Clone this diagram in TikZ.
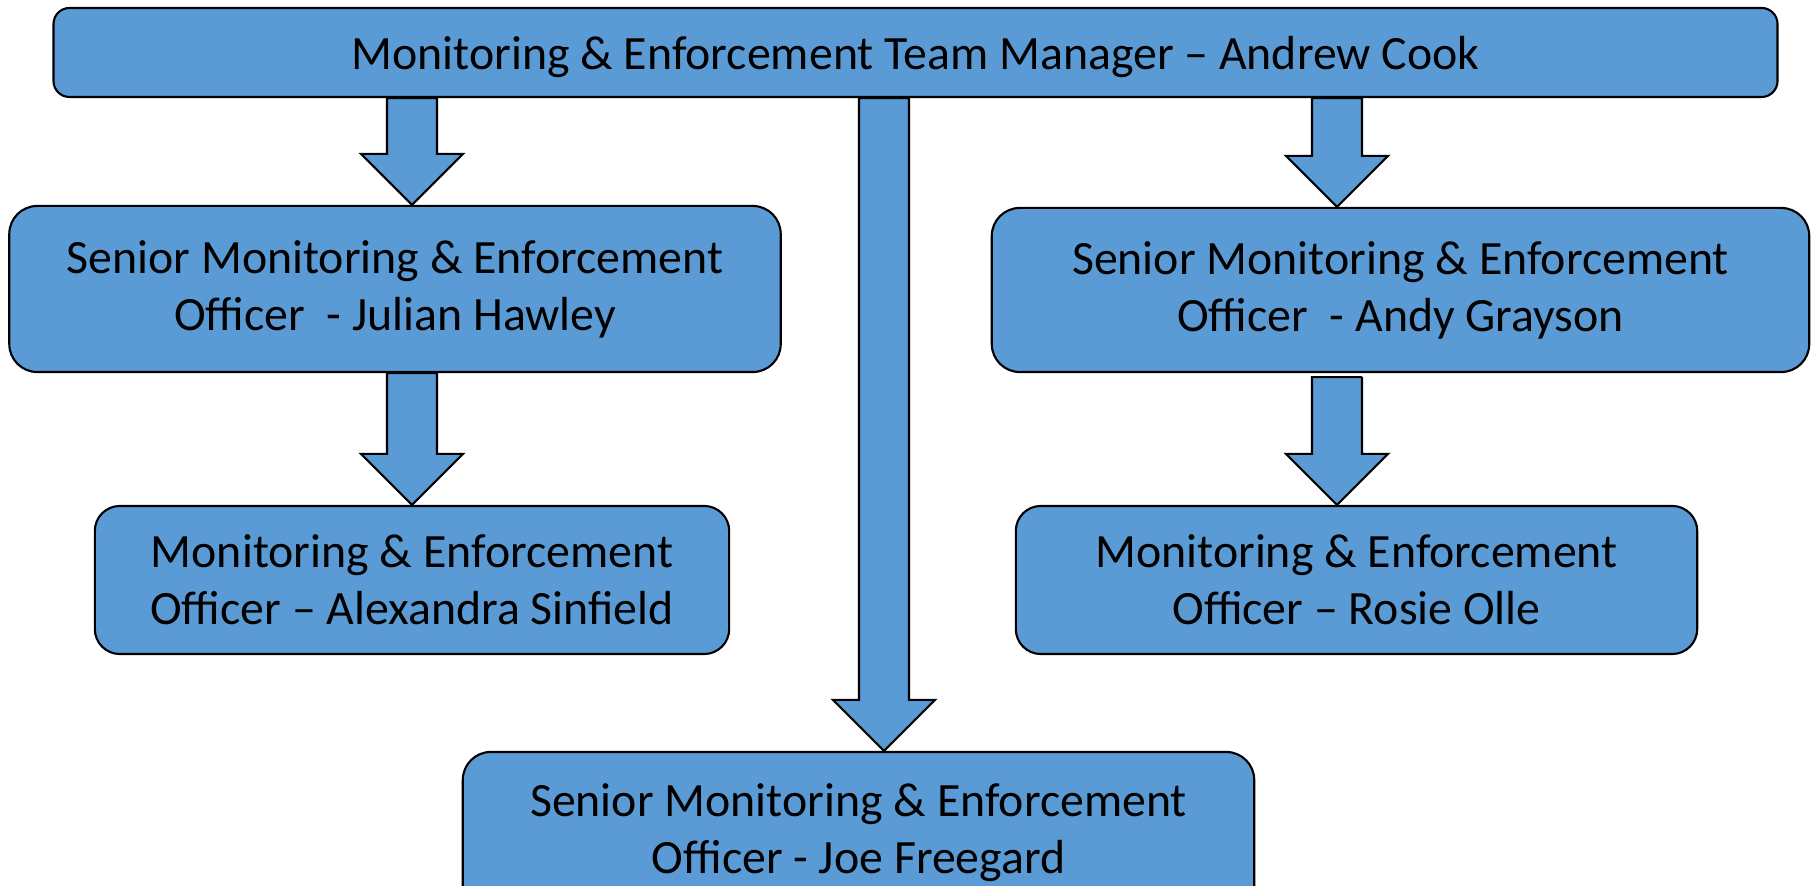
\documentclass[tikz,border=0pt]{standalone}
\usepackage{fontspec}
\setmainfont{Carlito}
\usepackage{tikz}
\definecolor{office blue}{RGB}{91,155,213}

\tikzset{
	post/.style = {draw = black, fill = office blue, line width = 0.6pt,
		rounded corners = 0.28cm, align = center, inner sep = 0pt,
		font = \fontsize{13.6pt}{16.2pt}\selectfont},
	arrow block/.style = {draw = black, fill = office blue, line width = 0.6pt}
}

\begin{document}
\begin{tikzpicture}[x = 0.01cm, y = -0.01cm]
		\useasboundingbox (0, 0) rectangle (1818, 886);
		\clip (0, 0) rectangle (1818, 886);
		% manager
		\node [post, rounded corners = 0.16cm, text depth = 0pt,
				minimum width = 17.23cm, minimum height = 0.89cm]
			(andrew) at (915.5, 52.5) {Monitoring \& Enforcement Team Manager -- Andrew Cook};
		% senior officers
		\node [post, minimum width = 7.71cm, minimum height = 1.66cm]
			(julian) at (395, 289) {Senior Monitoring \& Enforcement\\Officer\ \ - Julian Hawley};
		\node [post, minimum width = 8.17cm, minimum height = 1.64cm]
			(andy) at (1400.5, 290) {Senior Monitoring \& Enforcement\\Officer\ \ - Andy Grayson};
		\node [post, minimum width = 7.91cm, minimum height = 1.62cm]
			(joe) at (858.5, 833) {Senior Monitoring \& Enforcement\\Officer - Joe Freegard};
		% officers
		\node [post, rounded corners = 0.25cm, minimum width = 6.34cm, minimum height = 1.48cm]
			(alexandra) at (412, 580) {Monitoring \& Enforcement\\Officer -- Alexandra Sinfield};
		\node [post, rounded corners = 0.25cm, minimum width = 6.81cm, minimum height = 1.48cm]
			(rosie) at (1356.5, 580) {Monitoring \& Enforcement\\Officer -- Rosie Olle};
		% block arrows
		\foreach \x/\from/\to/\gap in {412/andrew/julian/0, 884/andrew/joe/0,
				1337/andrew/andy/0, 412/julian/alexandra/0, 1337/andy/rosie/0.4}
			\draw [arrow block]
				([xshift = -2.5mm, yshift = -\gap mm] \x, 0 |- \from.south)
				|- ([xshift = -5.1mm, yshift = 5.1mm] \x, 0 |- \to.north)
				-- (\x, 0 |- \to.north) -- ++(51, -51) -- ++(-26, 0)
				|- ([xshift = 2.5mm, yshift = -\gap mm] \x, 0 |- \from.south) -- cycle;
	\end{tikzpicture}
\end{document}
